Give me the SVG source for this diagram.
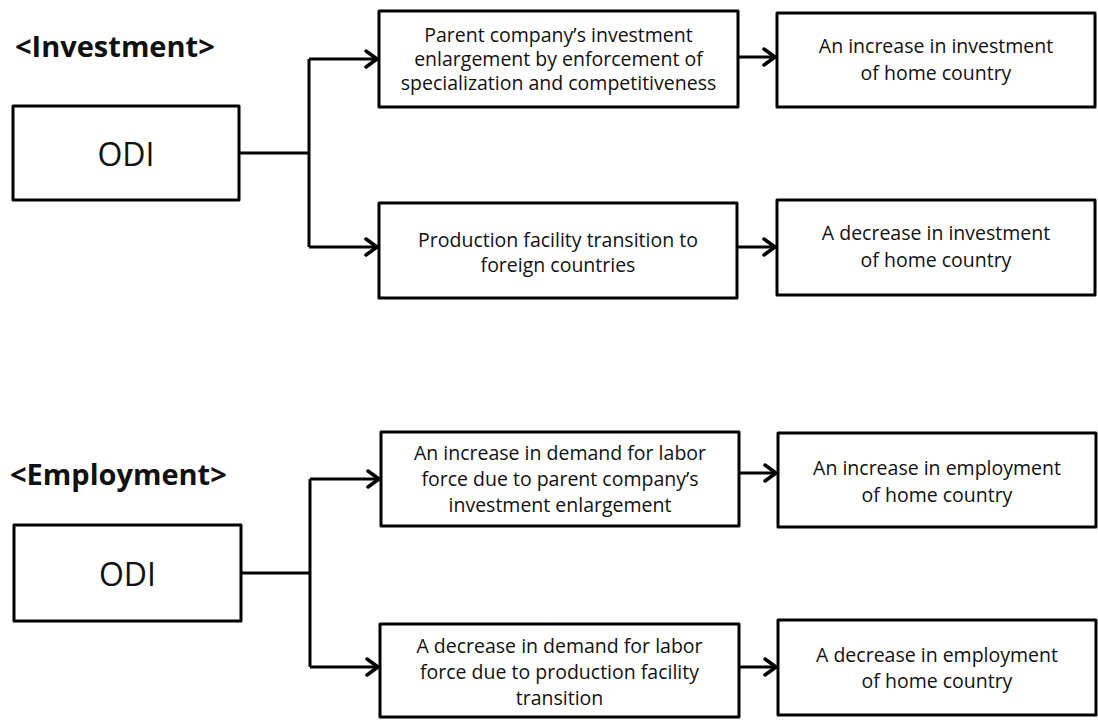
<svg xmlns="http://www.w3.org/2000/svg" width="1098" height="720" viewBox="0 0 1098 720">
<style>
.box{fill:#fff;stroke:#000;stroke-width:3;stroke-linejoin:round}
.t{font-family:"Open Sans","Noto Sans","DejaVu Sans",sans-serif;font-size:19.5px;fill:#111;text-anchor:middle}
.odi{font-family:"Open Sans","Noto Sans","DejaVu Sans",sans-serif;font-size:32px;fill:#111;text-anchor:middle}
.title{font-family:"Open Sans","Noto Sans","DejaVu Sans",sans-serif;font-size:29px;font-weight:bold;fill:#111}
.c{fill:none;stroke:#000;stroke-width:3;stroke-linejoin:round}
</style>
<defs>
<marker id="arr" markerWidth="16" markerHeight="20" refX="13" refY="10" orient="auto" markerUnits="userSpaceOnUse">
<path d="M2,2 L13,10 L2,18" fill="none" stroke="#000" stroke-width="3.5" stroke-linecap="round" stroke-linejoin="round"/>
</marker>
</defs>
<rect width="1098" height="720" fill="#fff"/>
<text class="title" x="15" y="57">&lt;Investment&gt;</text>
<text class="title" x="10" y="485">&lt;Employment&gt;</text>

<g id="connectors">
<path class="c" d="M239,153 H309 M309,59 V247"/>
<path class="c" d="M309,59 H377" marker-end="url(#arr)"/>
<path class="c" d="M309,247 H377" marker-end="url(#arr)"/>
<path class="c" d="M738,57 H775" marker-end="url(#arr)"/>
<path class="c" d="M737,247 H775" marker-end="url(#arr)"/>
<path class="c" d="M241,573 H310 M310,479 V667"/>
<path class="c" d="M310,479 H379" marker-end="url(#arr)"/>
<path class="c" d="M310,667 H378" marker-end="url(#arr)"/>
<path class="c" d="M739,473 H776" marker-end="url(#arr)"/>
<path class="c" d="M739,667 H776" marker-end="url(#arr)"/>
</g>

<g id="odi1"><rect class="box" x="13" y="106" width="226" height="94"/><text class="odi" x="126" y="166">ODI</text></g>
<g id="inv-up"><rect class="box" x="379" y="11" width="359" height="96"/>
<text class="t" x="558.5" y="42">Parent company’s investment</text>
<text class="t" x="558.5" y="66">enlargement by enforcement of</text>
<text class="t" x="558.5" y="90">specialization and competitiveness</text></g>
<g id="inv-down"><rect class="box" x="379" y="203" width="358" height="95"/>
<text class="t" x="558" y="247">Production facility transition to</text>
<text class="t" x="558" y="272">foreign countries</text></g>
<g id="inv-inc"><rect class="box" x="777" y="13" width="318" height="94"/>
<text class="t" x="936" y="53">An increase in investment</text>
<text class="t" x="936" y="80">of home country</text></g>
<g id="inv-dec"><rect class="box" x="777" y="200" width="318" height="95"/>
<text class="t" x="936" y="240">A decrease in investment</text>
<text class="t" x="936" y="267">of home country</text></g>

<g id="odi2"><rect class="box" x="14" y="525" width="227" height="96"/><text class="odi" x="127.5" y="586">ODI</text></g>
<g id="emp-up"><rect class="box" x="381" y="432" width="358" height="94"/>
<text class="t" x="560" y="460">An increase in demand for labor</text>
<text class="t" x="560" y="486">force due to parent company’s</text>
<text class="t" x="560" y="512">investment enlargement</text></g>
<g id="emp-down"><rect class="box" x="380" y="624" width="359" height="93"/>
<text class="t" x="559.5" y="653">A decrease in demand for labor</text>
<text class="t" x="559.5" y="679">force due to production facility</text>
<text class="t" x="559.5" y="705">transition</text></g>
<g id="emp-inc"><rect class="box" x="778" y="433" width="318" height="94"/>
<text class="t" x="937" y="475">An increase in employment</text>
<text class="t" x="937" y="502">of home country</text></g>
<g id="emp-dec"><rect class="box" x="778" y="620" width="318" height="95"/>
<text class="t" x="937" y="662">A decrease in employment</text>
<text class="t" x="937" y="688">of home country</text></g>
</svg>
